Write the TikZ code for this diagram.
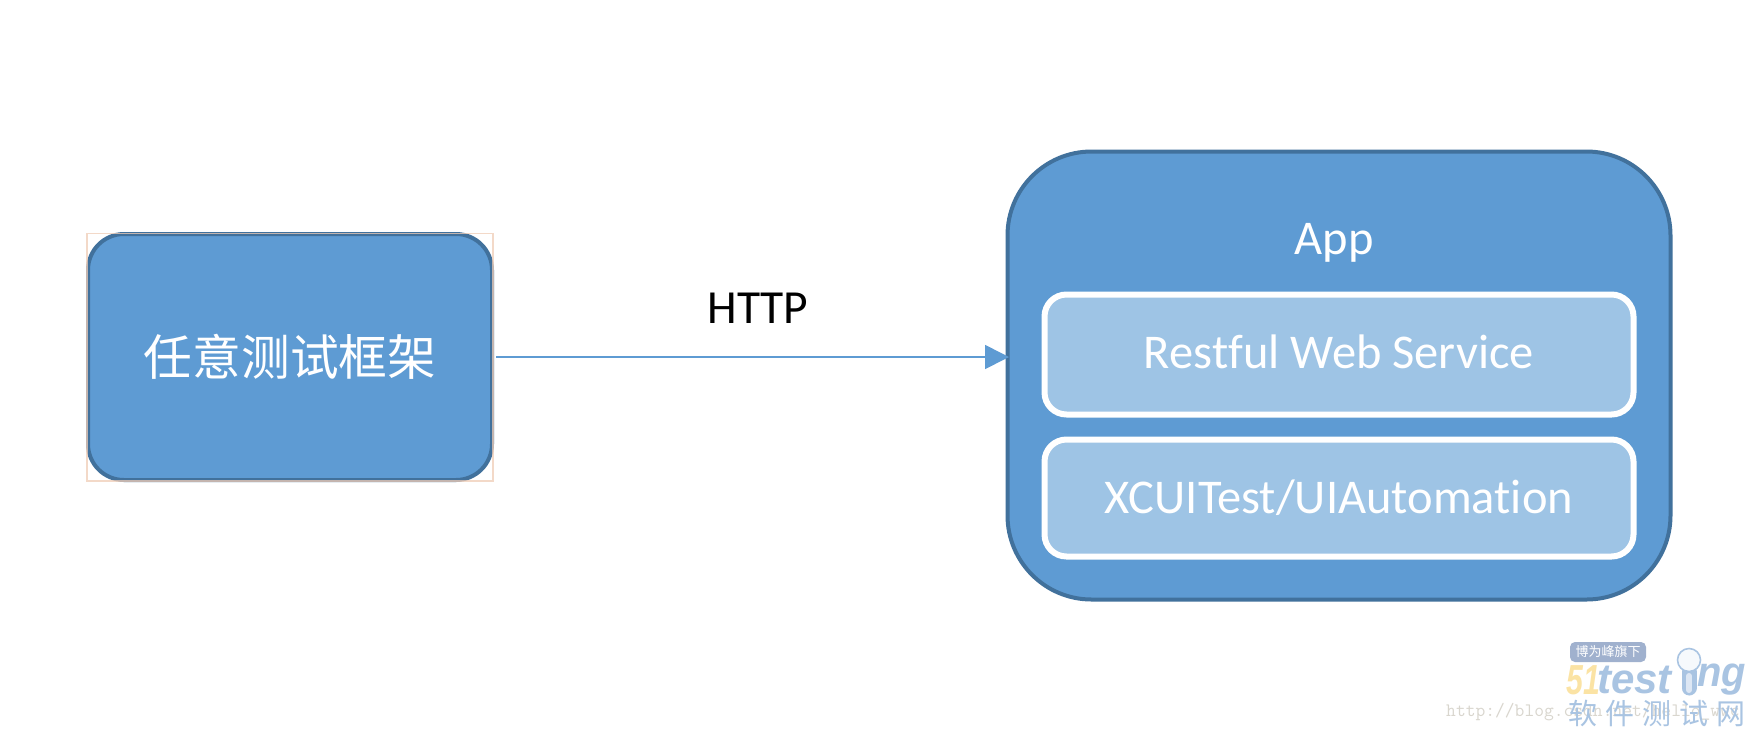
\documentclass[tikz,border=0pt]{standalone}
\usepackage{fontspec}
\setmainfont[Ligatures=NoCommon]{Carlito}
\newfontfamily\cjk{Noto Sans CJK SC}
\newfontfamily\wmsans{Liberation Sans}
\usetikzlibrary{arrows.meta}
\definecolor{fillblue}{HTML}{5E9BD3}
\definecolor{edgeblue}{HTML}{41719C}
\definecolor{innerblue}{HTML}{9EC4E5}
\definecolor{peach}{HTML}{F0CDB6}
\definecolor{wmblue}{HTML}{A9C4E2}
\definecolor{wmgold}{HTML}{FBE3A4}
\definecolor{wmbadge}{HTML}{A0B1CE}
\definecolor{wmgrey}{HTML}{D9D6CE}
\tikzset{
  x=1pt,y=-1pt,
  blue box/.style={draw=edgeblue,fill=fillblue,line width=4pt},
  inner box/.style={draw=white,fill=innerblue,line width=6pt,rounded corners=22pt,
    text=white,inner sep=0pt,outer sep=0pt,font=\fontsize{48.5}{52}\selectfont},
  logo text/.style={anchor=west,inner sep=0pt,font=\wmsans\bfseries\itshape\fontsize{42}{44}\selectfont},
}
\begin{document}
\begin{tikzpicture}
\useasboundingbox (0,0) rectangle (1758,732);
\fill[white] (0,0) rectangle (1758,732);

% left box
\node[blue box,rounded corners=36pt,minimum width=404pt,minimum height=246pt,
      inner sep=0pt,outer sep=0pt,text=white] (framework) at (290,357)
      {\cjk\fontsize{48.7}{52}\selectfont 任意测试框架};

% selection outline laid over the framework box
\draw[peach,opacity=.75,line width=1.6pt] (87,233.5) rectangle (493,481);

% application container
\node[blue box,rounded corners=84pt,minimum width=663pt,minimum height=448pt,
      inner sep=0pt,outer sep=2pt] (app) at (1339,375.5) {};
\node[text=white,font=\fontsize{48.5}{52}\selectfont,inner sep=0pt] (applabel) at (1334,243) {App};

% inner components
\node[inner box,minimum width=589pt,minimum height=120pt] (rest) at (1339,354.5)
  {\raisebox{5pt}{Restful Web Service}};
\node[inner box,minimum width=589pt,minimum height=117pt] (xcui) at (1339,498)
  {\raisebox{-1pt}{XCUITest/UIAutomation}};

% HTTP connection
\coordinate (appin) at ([xshift=3.5pt]app.west |- framework.east);
\draw[fillblue,line width=1.6pt,-{Triangle[length=24pt,width=24pt]}] ([xshift=4pt]framework.east) -- (appin);
\node[font=\fontsize{47.5}{52}\selectfont,text=black,inner sep=0pt] (http) at (758,308) {HTTP};

% source line and logo in the lower right corner
\node[anchor=west,inner sep=0pt,text=wmgrey,font=\ttfamily\fontsize{19}{22}\selectfont] (url) at (1446,712)
  {http://blog.csdn.net/hello\_wwc};
\node[fill=wmbadge,rounded corners=5pt,text=white,inner sep=0pt,minimum width=76pt,minimum height=20pt,
      font=\cjk\fontsize{13}{15}\selectfont] (badge) at (1608,652) {博为峰旗下};
\node[logo text,text=wmgold] (fiftyone) at (1566,680) {\scalebox{.72}[1]{51}};
\node[logo text,text=wmblue] (logotest) at (1597,680) {test};
\node[logo text,text=wmblue] (logong) at (1697,680) {\scalebox{.95}[1]{ng}};
\draw[wmblue,line width=15pt,line cap=round] (1689,672) -- (1689,688);
\draw[white!60!wmblue,line width=6pt,line cap=round] (1689,676) -- (1689,690);
\draw[wmblue,fill=white!90!wmblue,line width=1.6pt] (1689,660) circle (11.5pt);
\node[anchor=west,inner sep=0pt,text=wmblue,font=\cjk\fontsize{29}{31}\selectfont] (wmcn) at (1568,713)
  {软\hspace{8pt}件\hspace{8pt}测\hspace{8pt}试\hspace{8pt}网};
\end{tikzpicture}
\end{document}
